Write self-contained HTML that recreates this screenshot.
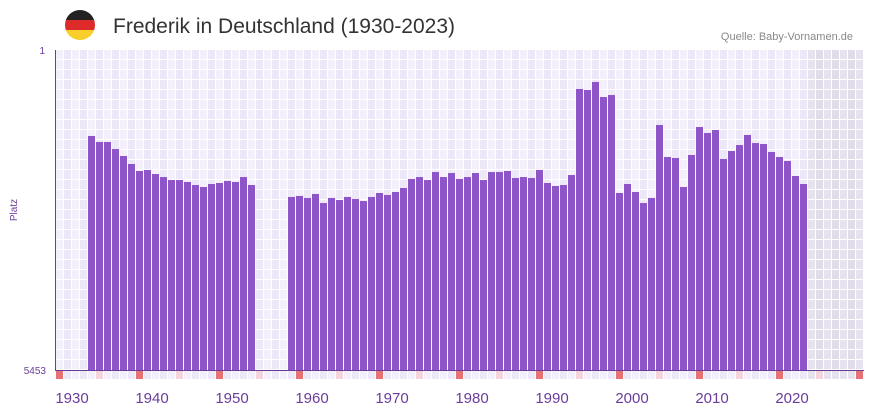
<!DOCTYPE html>
<html><head><meta charset="utf-8"><style>
body{margin:0;background:#fff;width:873px;height:412px;overflow:hidden;font-family:"Liberation Sans",sans-serif}
svg{display:block}
</style></head><body>
<svg id="chart" width="873" height="412" xmlns="http://www.w3.org/2000/svg">
<g>
<clipPath id="fc"><circle cx="80" cy="25" r="15"/></clipPath>
<g clip-path="url(#fc)"><rect x="65" y="10" width="30" height="10" fill="#222"/><rect x="65" y="20" width="30" height="10" fill="#dd2a2a"/><rect x="65" y="30" width="30" height="10" fill="#f8cf2a"/></g>
</g>
<text x="113" y="33" font-size="21" fill="#333">Frederik in Deutschland (1930-2023)</text>
<text x="853" y="40" font-size="11" fill="#888" text-anchor="end">Quelle: Baby-Vornamen.de</text>
<text x="45" y="54" font-size="10" fill="#6a3d9a" text-anchor="end">1</text>
<text x="46" y="374" font-size="10" fill="#6a3d9a" text-anchor="end">5453</text>
<text x="17" y="210" font-size="10" fill="#6a3d9a" text-anchor="middle" transform="rotate(-90 17 210)">Platz</text>
<g id="grid"></g><g id="bars"></g><g id="marks"></g><g id="xlabels"></g>
<line x1="55.5" y1="50" x2="55.5" y2="370" stroke="#6a3d9a" stroke-width="1"/>
<line x1="55" y1="370.5" x2="864" y2="370.5" stroke="#6a3d9a" stroke-width="1"/>
</svg>
<script>
const years = [];
for (let y = 1933; y <= 2022; y++) years.push(y);
const ranksA = [1466,1568,1568,1688,1807,1943,2062,2045,2114,2165,2216,2216,2250,2301,2335,2284,2267,2233,2250,2165,2301];
const ranksGap = [null,null,null,null];
const ranksB = [2505,2488,2522,2454,2608,2522,2557,2505,2540,2574,2505,2437,2471,2420,2352,2199,2165,2216,2080,2165,2097,2199,2165,2097,2216,2080,2080,2062,2182,2165,2182,2045,2267,2318,2301,2131,665,682,546,802,768,2437,2284,2420,2608,2522,1279,1824,1841,2335,1790,1313,1415,1364,1858,1722,1620,1449,1586,1603,1739,1824,1892,2148,2284];
const ranks = ranksA.concat(ranksGap, ranksB);
const xTicks = [1930,1940,1950,1960,1970,1980,1990,2000,2010,2020];
const maxRank = 5453, firstYear = 1929, lastYear = 2029, dataEnd = 2022;
const ns = "http://www.w3.org/2000/svg";
const X0 = 56, CW = 8, Y0 = 50, Y1 = 370;
function xScale(yr){ return X0 + (yr - firstYear) * CW; }
function yScale(r){ return Y0 + (r - 1) / (maxRank - 1) * (Y1 - Y0); }
function mk(tag, a){ const e = document.createElementNS(ns, tag); for (const k in a) e.setAttribute(k, a[k]); return e; }
const grid = document.getElementById('grid');
for (let yr = firstYear; yr <= lastYear; yr++) {
  const future = yr > dataEnd;
  const odd = (yr - firstYear) % 2;
  const fill = future ? (odd ? '#e0dcea' : '#e6e2ee') : (odd ? '#ede8f8' : '#f3effb');
  for (let r = 0; r < 32; r++) {
    const c = mk('rect', {x: xScale(yr), y: Y0 + r*10, width: 7, height: 9, fill: fill});
    
    
    grid.appendChild(c);
  }
  const idx = yr - firstYear;
  const mfill = idx % 10 === 0 ? '#e57373' : (idx % 5 === 0 ? '#f5d5dc' : (future ? '#e6e2ee' : (odd ? '#ede8f8' : '#f3effb')));
  const m = mk('rect', {x: xScale(yr), y: 371, width: 7, height: 8, fill: mfill});
  
  
  document.getElementById('marks').appendChild(m);
}
const bars = document.getElementById('bars');
years.forEach((yr, i) => {
  const r = ranks[i];
  if (r == null) return;
  const top = yScale(r);
  const b = mk('rect', {x: xScale(yr), y: top, width: 7, height: Y1 - top, fill: '#8e55c8'});
  
  
  bars.appendChild(b);
});
const xl = document.getElementById('xlabels');
xTicks.forEach(t => {
  const e = mk('text', {x: xScale(t) + 8, y: 403, 'font-size': 15, fill: '#6a3d9a', 'text-anchor': 'middle'});
  e.textContent = t;
  
  
  xl.appendChild(e);
});
</script>
</body></html>
